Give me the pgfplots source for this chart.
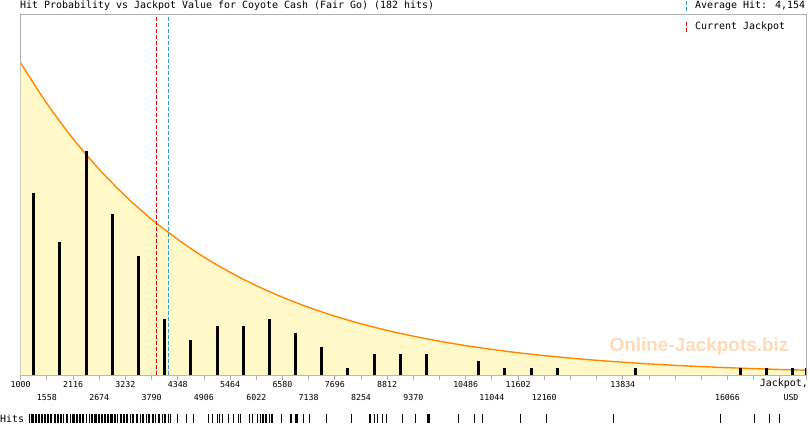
\documentclass[border=0pt]{standalone}
\usepackage{pgfplots}
\pgfplotsset{compat=1.18}
\usepackage{fontspec}
\setmainfont{DejaVu Sans Mono}
\newfontfamily\wmfont{Liberation Sans}
\definecolor{fillyel}{RGB}{255,248,200}
\definecolor{curveor}{RGB}{255,136,0}
\definecolor{framegray}{RGB}{176,176,176}
\definecolor{avgblue}{RGB}{51,153,204}
\definecolor{curred}{RGB}{221,0,0}
\definecolor{wmark}{RGB}{255,218,185}
\newcommand\tf{\fontsize{10}{12}\selectfont}
\newcommand\tkf{\fontsize{8.3}{10}\selectfont}
\begin{document}
\begin{tikzpicture}[x=1bp,y=1bp]
\useasboundingbox (0,0) rectangle (810,425);
\begin{axis}[
  at={(20.7bp,50bp)}, anchor=south west, scale only axis,
  width=785.3bp, height=360bp,
  xmin=1000, xmax=17740, ymin=0, ymax=51.43,
  scaled x ticks=false, scaled y ticks=false,
  axis line style={draw=framegray, line width=1bp},
  ytick=\empty,
  xtick pos=bottom,
  tick align=outside,
  major tick length=5bp,
  tick style={draw=framegray, line width=0.8bp},
  xtick={1000,1558,2116,2674,3232,3790,4348,4906,5464,6022,6580,7138,7696,8254,8812,9370,9928,10486,11044,11602,12160,12718,13276,13834,14392,14950,15508,16066,16624,17182,17740},
  xticklabels={1000,,2116,,3232,,4348,,5464,,6580,,7696,,8812,,,10486,,11602,,,,13834,,,,,,,},
  xticklabel style={font=\tkf, inner sep=0pt, anchor=north, yshift=-1bp},
  extra x ticks={1558,2674,3790,4906,6022,7138,8254,9370,11044,12160,16066},
  extra x tick labels={1558,2674,3790,4906,6022,7138,8254,9370,11044,12160,16066},
  extra x tick style={xticklabel style={yshift=-13bp}},
]
% area under the hit probability curve
\addplot[draw=none, fill=fillyel, smooth] coordinates {
(1000,44.57) (1558,38.79) (2116,33.76) (2674,29.38) (3232,25.57) (3790,22.25)
(4348,19.37) (4906,16.85) (5464,14.67) (6022,12.77) (6580,11.11) (7138,9.67)
(7696,8.41) (8254,7.32) (8812,6.37) (9370,5.55) (9928,4.83) (10486,4.20)
(11044,3.66) (11602,3.18) (12160,2.77) (12718,2.41) (13276,2.10) (13834,1.83)
(14392,1.59) (14950,1.38) (15508,1.20) (16066,1.05) (16624,0.91) (17182,0.79)
(17740,0.69)} \closedcycle;
\addplot[curveor, line width=1.4bp, smooth] coordinates {
(1000,44.57) (1558,38.79) (2116,33.76) (2674,29.38) (3232,25.57) (3790,22.25)
(4348,19.37) (4906,16.85) (5464,14.67) (6022,12.77) (6580,11.11) (7138,9.67)
(7696,8.41) (8254,7.32) (8812,6.37) (9370,5.55) (9928,4.83) (10486,4.20)
(11044,3.66) (11602,3.18) (12160,2.77) (12718,2.41) (13276,2.10) (13834,1.83)
(14392,1.59) (14950,1.38) (15508,1.20) (16066,1.05) (16624,0.91) (17182,0.79)
(17740,0.69)};
% current jackpot and average hit
\addplot[curred, line width=1bp, dash pattern=on 4bp off 2bp] coordinates {(3897,0) (3897,51.43)};
\addplot[avgblue, line width=1bp, dash pattern=on 4bp off 2bp] coordinates {(4154,0) (4154,51.43)};
% hits per bin
\addplot[ycomb, black, line width=3bp, mark=none] coordinates {
(1279,26) (1837,19) (2395,32) (2953,23) (3511,17) (4069,8) (4627,5) (5185,7)
(5743,7) (6301,8) (6859,6) (7417,4) (7975,1) (8533,3) (9091,3) (9649,3)
(10765,2) (11323,1) (11881,1) (12439,1) (14113,1) (16345,1) (16903,1) (17461,1)
(17740,1)};
\end{axis}
% rug of individual hits
\begin{axis}[
  at={(20.7bp,2bp)}, anchor=south west, scale only axis,
  width=785.3bp, height=9bp,
  xmin=1000, xmax=17740, ymin=0, ymax=1, hide axis, clip=false,
  scaled x ticks=false,
]
\addplot[ycomb, black, line width=1bp, mark=none] coordinates {
(1177,1) (1198,1) (1220,1) (1241,1) (1262,1) (1283,1) (1305,1) (1326,1) (1347,1)
(1390,1) (1411,1) (1433,1) (1454,1) (1475,1) (1497,1) (1518,1) (1539,1) (1561,1)
(1603,1) (1625,1) (1646,1) (1731,1) (1752,1) (1774,1) (1795,1) (1816,1)
(1859,1) (1880,1) (1902,1) (1966,1) (2008,1)
(2051,1) (2072,1) (2094,1) (2115,1) (2136,1) (2157,1) (2179,1)
(2221,1) (2243,1) (2264,1) (2285,1) (2307,1) (2328,1) (2349,1)
(2392,1) (2413,1) (2456,1) (2477,1) (2499,1) (2520,1) (2541,1) (2563,1) (2584,1)
(2626,1) (2648,1) (2669,1) (2690,1) (2712,1) (2733,1) (2754,1) (2776,1)
(2818,1) (2840,1) (2861,1) (2882,1) (2904,1) (2925,1) (2946,1) (2967,1) (2989,1)
(3010,1) (3031,1) (3053,1) (3074,1) (3117,1) (3138,1) (3159,1) (3181,1) (3202,1)
(3245,1) (3287,1) (3330,1) (3373,1) (3415,1) (3458,1) (3500,1) (3543,1)
(3586,1) (3628,1) (3671,1) (3714,1) (3756,1) (3799,1) (3841,1) (3884,1) (3927,1) (3969,1)
(4012,1) (4055,1) (4097,1) (4140,1) (4183,1) (4332,1) (4524,1) (4673,1)
(4993,1) (5078,1) (5185,1) (5248,1) (5312,1) (5419,1) (5526,1) (5653,1) (5675,1)
(5867,1) (5931,1) (6037,1) (6101,1) (6122,1) (6144,1) (6165,1) (6208,1) (6229,1) (6250,1)
(6293,1) (6314,1) (6336,1) (6357,1) (6549,1) (6741,1) (6783,1) (6847,1) (6869,1) (6890,1)
(7018,1) (7146,1) (7508,1) (7529,1) (8041,1) (8425,1) (8467,1) (8531,1) (8595,1)
(8702,1) (8787,1) (9128,1) (9405,1) (9661,1) (9683,1) (9704,1) (10322,1) (10663,1)
(10834,1) (11644,1) (12198,1) (13626,1) (15907,1) (16632,1) (16951,1) (17165,1)};
\end{axis}
% texts
\node[anchor=west, inner sep=0pt] at (20,419) {\tf Hit Probability vs Jackpot Value for Coyote Cash (Fair Go) (182 hits)};
\node[anchor=west, inner sep=0pt] at (0,6) {\tf Hits};
\draw[avgblue, line width=1bp, dash pattern=on 4bp off 2bp] (686,414) -- (686,425);
\node[anchor=west, inner sep=0pt] at (695,419) {\tf Average Hit: 4,154};
\draw[curred, line width=1bp, dash pattern=on 4bp off 2bp] (686,393) -- (686,404);
\node[anchor=west, inner sep=0pt] at (695,398) {\tf Current Jackpot};
\node[anchor=east, inner sep=0pt] at (808,41) {\tf Jackpot,};
\node[inner sep=0pt] at (791,28) {\tkf USD};
\node[text=wmark, inner sep=0pt] at (699,78) {\wmfont\bfseries\fontsize{19}{20}\selectfont Online-Jackpots.biz};
\end{tikzpicture}
\end{document}
